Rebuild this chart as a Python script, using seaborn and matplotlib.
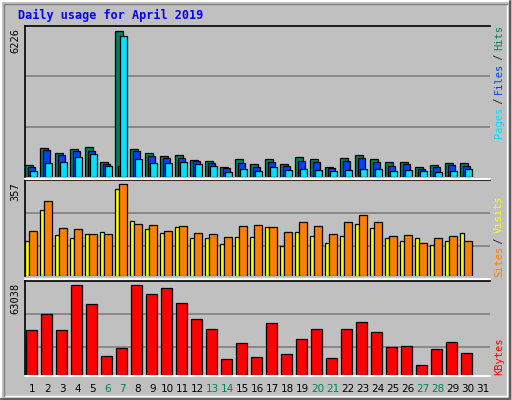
import numpy as np
import matplotlib
matplotlib.use("Agg")
import matplotlib.pyplot as plt
from matplotlib.lines import Line2D
import seaborn as sns

sns.set_theme(style="white")
plt.rcParams["font.family"] = ["DejaVu Sans"]

# ---- data ----
days = list(range(1, 31))
hits = [521, 1240, 1029, 1198, 1282, 648, 6226, 1198, 1029, 902, 944, 733, 690, 437, 775,
        564, 775, 564, 859, 775, 437, 817, 944, 775, 648, 648, 437, 521, 606, 606]
files = [437, 1155, 944, 1113, 1113, 564, 479, 1113, 902, 817, 817, 690, 606, 395, 606,
         437, 648, 479, 690, 648, 395, 690, 817, 648, 479, 564, 352, 437, 521, 479]
pages = [268, 606, 648, 859, 986, 479, 6016, 775, 606, 606, 648, 564, 479, 225, 352,
         268, 437, 310, 352, 310, 268, 310, 352, 352, 268, 310, 268, 225, 268, 352]
visits = [135, 255, 159, 147, 162, 170, 336, 213, 182, 166, 189, 147, 147, 124, 151,
          151, 189, 116, 170, 155, 128, 155, 201, 186, 147, 135, 147, 120, 135, 166]
sites = [174, 290, 186, 182, 162, 162, 357, 201, 197, 174, 193, 166, 162, 151, 193,
         197, 189, 170, 209, 193, 162, 209, 236, 209, 155, 159, 128, 147, 155, 135]
kbytes = [31864, 42947, 31864, 63038, 49874, 13161, 18703, 63038, 56801, 60958, 50567,
          39484, 32557, 11083, 22166, 12469, 36713, 14547, 25630, 32557, 11776, 32557,
          37406, 30479, 19396, 20088, 6927, 18010, 22859, 15239]
weekend = [6, 7, 13, 14, 20, 21, 27, 28]

BG = "#c0c0c0"
W, H = 512, 400
fig = plt.figure(figsize=(5.12, 4.0), dpi=100, facecolor=BG)

def px_axes(x0, y0, x1, y1):
    return fig.add_axes([x0 / W, 1 - y1 / H, (x1 - x0) / W, (y1 - y0) / H])

def style(ax, top, grid_fracs):
    ax.set_facecolor(BG)
    ax.set_xlim(0.5, 31.5)
    ax.set_ylim(0, top)
    for f in grid_fracs:
        ax.axhline(f * top, color="#808080", lw=1.2, zorder=0)
    ax.set_xticks([])
    ax.set_yticks([])
    for s in ["right", "bottom"]:
        ax.spines[s].set_visible(False)
    ax.spines["left"].set_color("black")
    ax.spines["top"].set_color("black")
    ax.spines["left"].set_linewidth(1.2)
    ax.spines["top"].set_linewidth(1.2)

d = np.array(days)
ekw = dict(edgecolor="black", linewidth=0.9, align="edge", zorder=2)

ax1 = px_axes(25, 26, 490, 177)
style(ax1, 6423, [1 / 3, 2 / 3])
ax1.bar(d - 0.5, hits, width=0.53, color="#008060", **ekw)
ax1.bar(d - 0.33, files, width=0.47, color="#0040ff", **ekw)
ax1.bar(d - 0.2, pages, width=0.5, color="#00e0ff", **ekw)

ax2 = px_axes(25, 180, 490, 276)
style(ax2, 371, [0.312, 0.657])
ax2.bar(d - 0.5, visits, width=0.27, color="#ffff00", **ekw)
ax2.bar(d - 0.23, sites, width=0.5, color="#ff8000", **ekw)

ax3 = px_axes(25, 281, 490, 375)
style(ax3, 66040, [0.301, 0.65])
ax3.bar(d - 0.43, kbytes, width=0.7, color="#ff0000", **ekw)

# white separators between panels
for y in [178.5, 279, 376]:
    fig.add_artist(Line2D([25 / W, 490 / W], [1 - y / H] * 2, color="white", lw=1.5))

# bevel border
fig.add_artist(Line2D([1 / W, 1 / W, 510 / W], [2 / H, 1 - 1 / H, 1 - 1 / H], color="white", lw=1.5))
fig.add_artist(Line2D([1 / W, 510 / W, 510 / W], [1 / H, 1 / H, 1 - 1 / H], color="#606060", lw=1.5))
fig.add_artist(Line2D([4 / W, 507 / W, 507 / W], [4 / H, 4 / H, 1 - 4 / H], color="white", lw=1))
fig.add_artist(Line2D([4 / W, 4 / W, 507 / W], [4 / H, 1 - 4 / H, 1 - 4 / H], color="#808080", lw=1))

mono = "DejaVu Sans Mono"
fig.text(18 / W, 1 - 15 / H, "Daily usage for April 2019", color="#0000ff", fontsize=8.5,
         fontweight="bold", family=mono, va="center", ha="left")

# left max labels
for txt, ytop in [("6226", 28), ("357", 182), ("63038", 283)]:
    fig.text(15 / W, 1 - ytop / H, txt, rotation=90, fontsize=7.5, family=mono,
             ha="center", va="top", color="black")

# right legend labels (read bottom -> top)
CH = 5.5
def rlabel(parts, ybottom):
    y = ybottom
    for txt, col in parts:
        fig.text(499 / W, 1 - y / H, txt, rotation=90, fontsize=7.5, family=mono,
                 ha="center", va="bottom", color=col)
        y -= len(txt) * CH
rlabel([("Pages", "#00e0ff"), (" / ", "#202020"), ("Files", "#0040ff"), (" / ", "#202020"),
        ("Hits", "#008060")], 138)
rlabel([("Sites", "#ff8000"), (" / ", "#202020"), ("Visits", "#ffff00")], 277)
rlabel([("KBytes", "#ff0000")], 375)

# day labels
for i in range(1, 32):
    x = 25 + (i - 0.5) * 15
    fig.text(x / W, 1 - 389 / H, str(i), fontsize=7.5, ha="center", va="center",
             color="#008060" if i in weekend else "black")

fig.savefig("out.png", dpi=100, facecolor=BG)
